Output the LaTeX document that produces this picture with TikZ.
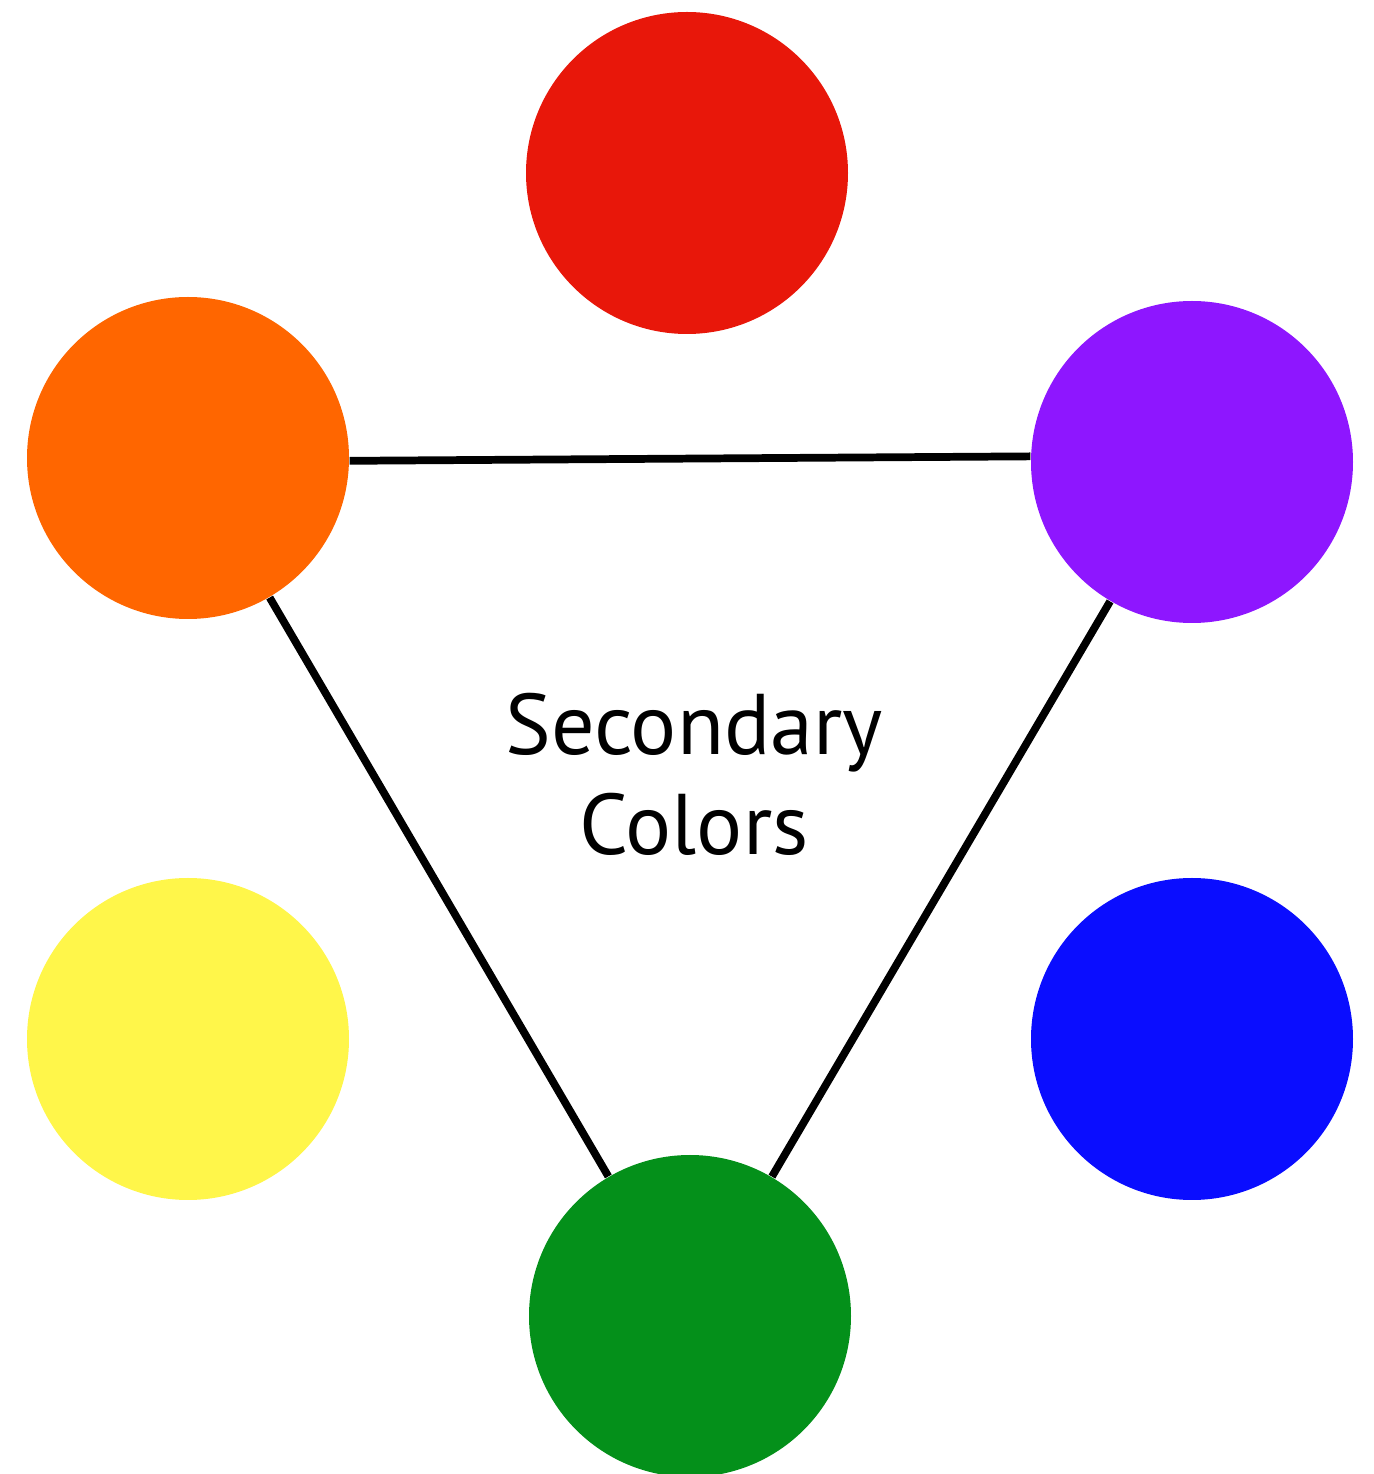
\documentclass[tikz,border=0pt]{standalone}
\usepackage{fontspec}
\setmainfont{PT Sans}
\usepackage{xcolor}
\usepackage{tikz}
\usetikzlibrary{positioning}

\definecolor{swRed}{HTML}{E8170A}
\definecolor{swOrange}{HTML}{FF6600}
\definecolor{swPurple}{HTML}{8E16FF}
\definecolor{swYellow}{HTML}{FFF64A}
\definecolor{swBlue}{HTML}{0A0DFF}
\definecolor{swGreen}{HTML}{04901A}

\begin{document}
\begin{tikzpicture}[
  swatch/.style={circle,minimum size=3.22cm,inner sep=0pt,draw=none},
  link/.style={draw,line width=2.2pt,black},
  caption/.style={align=center,font=\fontsize{24.5}{28.5}\selectfont}
]
\useasboundingbox (0,0) rectangle (13.73,14.74);
\node[swatch,fill=swRed]    (red)    at (6.87,13.01) {};
\node[swatch,fill=swOrange] (orange) at (1.88,10.16) {};
\node[swatch,fill=swPurple] (purple) at (11.92,10.12) {};
\node[swatch,fill=swYellow] (yellow) at (1.88,4.35) {};
\node[swatch,fill=swBlue]   (blue)   at (11.92,4.35) {};
\node[swatch,fill=swGreen]  (green)  at (6.90,1.58) {};

% triangle joining the secondaries
\draw[link] (orange.-1) -- (purple.178);
\draw[link] (orange) -- (green);
\draw[link] (purple) -- (green);

\node[caption] (title) at (6.94,7.00) {Secondary\\Colors};
\end{tikzpicture}
\end{document}
